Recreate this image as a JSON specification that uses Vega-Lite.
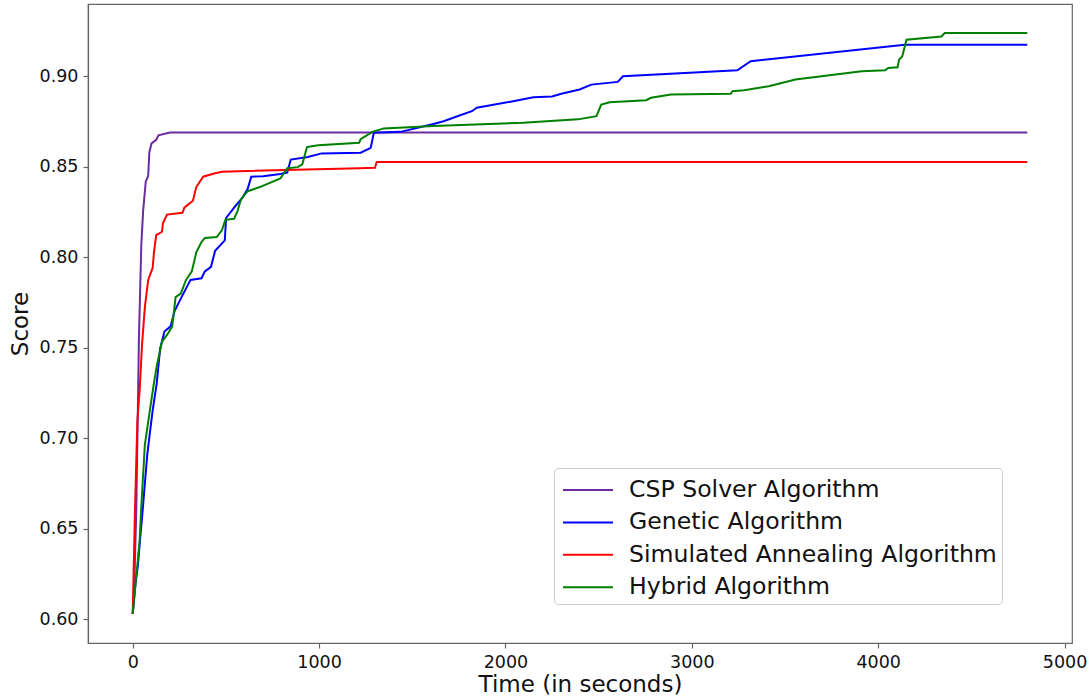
{
  "$schema": "https://vega.github.io/schema/vega-lite/v6.json",
  "width": 984,
  "height": 639,
  "autosize": {"type": "none"},
  "padding": {"left": 88, "top": 4, "right": 17, "bottom": 53},
  "background": "white",
  "config": {
    "font": "DejaVu Sans",
    "view": {"stroke": "#666666", "strokeWidth": 1.2},
    "axis": {
      "grid": false,
      "domainColor": "#666666",
      "domainWidth": 1.2,
      "tickColor": "#666666",
      "tickSize": 5,
      "tickWidth": 1.2,
      "labelFont": "DejaVu Sans",
      "labelFontSize": 17.5,
      "labelColor": "#111111",
      "titleFont": "DejaVu Sans",
      "titleFontSize": 23,
      "titleFontWeight": "normal",
      "titleColor": "#111111",
      "labelPadding": 5
    }
  },
  "data": {
    "values": [
      {"algorithm": "CSP Solver Algorithm", "time": 0, "score": 0.603},
      {"algorithm": "CSP Solver Algorithm", "time": 10, "score": 0.625},
      {"algorithm": "CSP Solver Algorithm", "time": 19, "score": 0.66},
      {"algorithm": "CSP Solver Algorithm", "time": 26, "score": 0.705},
      {"algorithm": "CSP Solver Algorithm", "time": 33, "score": 0.754},
      {"algorithm": "CSP Solver Algorithm", "time": 46, "score": 0.807},
      {"algorithm": "CSP Solver Algorithm", "time": 56, "score": 0.826},
      {"algorithm": "CSP Solver Algorithm", "time": 70, "score": 0.842},
      {"algorithm": "CSP Solver Algorithm", "time": 83, "score": 0.845},
      {"algorithm": "CSP Solver Algorithm", "time": 89, "score": 0.858},
      {"algorithm": "CSP Solver Algorithm", "time": 101, "score": 0.863},
      {"algorithm": "CSP Solver Algorithm", "time": 126, "score": 0.865},
      {"algorithm": "CSP Solver Algorithm", "time": 138, "score": 0.8675},
      {"algorithm": "CSP Solver Algorithm", "time": 200, "score": 0.869},
      {"algorithm": "CSP Solver Algorithm", "time": 4800, "score": 0.869},

      {"algorithm": "Genetic Algorithm", "time": 0, "score": 0.603},
      {"algorithm": "Genetic Algorithm", "time": 15, "score": 0.62},
      {"algorithm": "Genetic Algorithm", "time": 28, "score": 0.63},
      {"algorithm": "Genetic Algorithm", "time": 40, "score": 0.645},
      {"algorithm": "Genetic Algorithm", "time": 52, "score": 0.6585},
      {"algorithm": "Genetic Algorithm", "time": 65, "score": 0.675},
      {"algorithm": "Genetic Algorithm", "time": 78, "score": 0.691},
      {"algorithm": "Genetic Algorithm", "time": 92, "score": 0.703},
      {"algorithm": "Genetic Algorithm", "time": 107, "score": 0.7155},
      {"algorithm": "Genetic Algorithm", "time": 129, "score": 0.7306},
      {"algorithm": "Genetic Algorithm", "time": 147, "score": 0.7496},
      {"algorithm": "Genetic Algorithm", "time": 170, "score": 0.7591},
      {"algorithm": "Genetic Algorithm", "time": 203, "score": 0.7619},
      {"algorithm": "Genetic Algorithm", "time": 225, "score": 0.7705},
      {"algorithm": "Genetic Algorithm", "time": 262, "score": 0.7781},
      {"algorithm": "Genetic Algorithm", "time": 310, "score": 0.7876},
      {"algorithm": "Genetic Algorithm", "time": 369, "score": 0.7885},
      {"algorithm": "Genetic Algorithm", "time": 387, "score": 0.7923},
      {"algorithm": "Genetic Algorithm", "time": 420, "score": 0.7948},
      {"algorithm": "Genetic Algorithm", "time": 442, "score": 0.8037},
      {"algorithm": "Genetic Algorithm", "time": 494, "score": 0.8094},
      {"algorithm": "Genetic Algorithm", "time": 501, "score": 0.8218},
      {"algorithm": "Genetic Algorithm", "time": 544, "score": 0.8275},
      {"algorithm": "Genetic Algorithm", "time": 590, "score": 0.8332},
      {"algorithm": "Genetic Algorithm", "time": 617, "score": 0.8379},
      {"algorithm": "Genetic Algorithm", "time": 636, "score": 0.8446},
      {"algorithm": "Genetic Algorithm", "time": 700, "score": 0.8449},
      {"algorithm": "Genetic Algorithm", "time": 792, "score": 0.8461},
      {"algorithm": "Genetic Algorithm", "time": 829, "score": 0.8469},
      {"algorithm": "Genetic Algorithm", "time": 848, "score": 0.8541},
      {"algorithm": "Genetic Algorithm", "time": 940, "score": 0.8555},
      {"algorithm": "Genetic Algorithm", "time": 1013, "score": 0.8575},
      {"algorithm": "Genetic Algorithm", "time": 1223, "score": 0.8579},
      {"algorithm": "Genetic Algorithm", "time": 1277, "score": 0.8606},
      {"algorithm": "Genetic Algorithm", "time": 1294, "score": 0.8689},
      {"algorithm": "Genetic Algorithm", "time": 1437, "score": 0.8694},
      {"algorithm": "Genetic Algorithm", "time": 1614, "score": 0.8737},
      {"algorithm": "Genetic Algorithm", "time": 1668, "score": 0.8753},
      {"algorithm": "Genetic Algorithm", "time": 1757, "score": 0.8786},
      {"algorithm": "Genetic Algorithm", "time": 1820, "score": 0.8808},
      {"algorithm": "Genetic Algorithm", "time": 1846, "score": 0.8827},
      {"algorithm": "Genetic Algorithm", "time": 2041, "score": 0.8863},
      {"algorithm": "Genetic Algorithm", "time": 2150, "score": 0.8885},
      {"algorithm": "Genetic Algorithm", "time": 2250, "score": 0.889},
      {"algorithm": "Genetic Algorithm", "time": 2300, "score": 0.8905},
      {"algorithm": "Genetic Algorithm", "time": 2398, "score": 0.8928},
      {"algorithm": "Genetic Algorithm", "time": 2461, "score": 0.8955},
      {"algorithm": "Genetic Algorithm", "time": 2603, "score": 0.897},
      {"algorithm": "Genetic Algorithm", "time": 2630, "score": 0.9001},
      {"algorithm": "Genetic Algorithm", "time": 3244, "score": 0.9034},
      {"algorithm": "Genetic Algorithm", "time": 3316, "score": 0.9084},
      {"algorithm": "Genetic Algorithm", "time": 4143, "score": 0.9175},
      {"algorithm": "Genetic Algorithm", "time": 4800, "score": 0.9175},

      {"algorithm": "Simulated Annealing Algorithm", "time": 0, "score": 0.603},
      {"algorithm": "Simulated Annealing Algorithm", "time": 12, "score": 0.66},
      {"algorithm": "Simulated Annealing Algorithm", "time": 25, "score": 0.71},
      {"algorithm": "Simulated Annealing Algorithm", "time": 38, "score": 0.728},
      {"algorithm": "Simulated Annealing Algorithm", "time": 50, "score": 0.752},
      {"algorithm": "Simulated Annealing Algorithm", "time": 65, "score": 0.7724},
      {"algorithm": "Simulated Annealing Algorithm", "time": 83, "score": 0.7876},
      {"algorithm": "Simulated Annealing Algorithm", "time": 107, "score": 0.7943},
      {"algorithm": "Simulated Annealing Algorithm", "time": 114, "score": 0.8028},
      {"algorithm": "Simulated Annealing Algorithm", "time": 126, "score": 0.8123},
      {"algorithm": "Simulated Annealing Algorithm", "time": 157, "score": 0.8142},
      {"algorithm": "Simulated Annealing Algorithm", "time": 162, "score": 0.8189},
      {"algorithm": "Simulated Annealing Algorithm", "time": 184, "score": 0.8237},
      {"algorithm": "Simulated Annealing Algorithm", "time": 267, "score": 0.8247},
      {"algorithm": "Simulated Annealing Algorithm", "time": 277, "score": 0.8275},
      {"algorithm": "Simulated Annealing Algorithm", "time": 323, "score": 0.8313},
      {"algorithm": "Simulated Annealing Algorithm", "time": 341, "score": 0.8389},
      {"algorithm": "Simulated Annealing Algorithm", "time": 378, "score": 0.8446},
      {"algorithm": "Simulated Annealing Algorithm", "time": 442, "score": 0.8465},
      {"algorithm": "Simulated Annealing Algorithm", "time": 479, "score": 0.8474},
      {"algorithm": "Simulated Annealing Algorithm", "time": 1216, "score": 0.8493},
      {"algorithm": "Simulated Annealing Algorithm", "time": 1300, "score": 0.8496},
      {"algorithm": "Simulated Annealing Algorithm", "time": 1309, "score": 0.8527},
      {"algorithm": "Simulated Annealing Algorithm", "time": 4800, "score": 0.8527},

      {"algorithm": "Hybrid Algorithm", "time": 0, "score": 0.603},
      {"algorithm": "Hybrid Algorithm", "time": 20, "score": 0.625},
      {"algorithm": "Hybrid Algorithm", "time": 37, "score": 0.6433},
      {"algorithm": "Hybrid Algorithm", "time": 46, "score": 0.6623},
      {"algorithm": "Hybrid Algorithm", "time": 65, "score": 0.6965},
      {"algorithm": "Hybrid Algorithm", "time": 92, "score": 0.7155},
      {"algorithm": "Hybrid Algorithm", "time": 111, "score": 0.7288},
      {"algorithm": "Hybrid Algorithm", "time": 129, "score": 0.7401},
      {"algorithm": "Hybrid Algorithm", "time": 157, "score": 0.7534},
      {"algorithm": "Hybrid Algorithm", "time": 184, "score": 0.7572},
      {"algorithm": "Hybrid Algorithm", "time": 212, "score": 0.7619},
      {"algorithm": "Hybrid Algorithm", "time": 230, "score": 0.7781},
      {"algorithm": "Hybrid Algorithm", "time": 258, "score": 0.78},
      {"algorithm": "Hybrid Algorithm", "time": 286, "score": 0.7876},
      {"algorithm": "Hybrid Algorithm", "time": 317, "score": 0.7923},
      {"algorithm": "Hybrid Algorithm", "time": 341, "score": 0.8028},
      {"algorithm": "Hybrid Algorithm", "time": 369, "score": 0.8085},
      {"algorithm": "Hybrid Algorithm", "time": 387, "score": 0.8108},
      {"algorithm": "Hybrid Algorithm", "time": 451, "score": 0.8113},
      {"algorithm": "Hybrid Algorithm", "time": 479, "score": 0.8151},
      {"algorithm": "Hybrid Algorithm", "time": 497, "score": 0.8208},
      {"algorithm": "Hybrid Algorithm", "time": 544, "score": 0.8214},
      {"algorithm": "Hybrid Algorithm", "time": 562, "score": 0.8256},
      {"algorithm": "Hybrid Algorithm", "time": 581, "score": 0.8322},
      {"algorithm": "Hybrid Algorithm", "time": 617, "score": 0.8366},
      {"algorithm": "Hybrid Algorithm", "time": 682, "score": 0.8389},
      {"algorithm": "Hybrid Algorithm", "time": 792, "score": 0.8436},
      {"algorithm": "Hybrid Algorithm", "time": 829, "score": 0.8493},
      {"algorithm": "Hybrid Algorithm", "time": 885, "score": 0.8499},
      {"algorithm": "Hybrid Algorithm", "time": 910, "score": 0.8515},
      {"algorithm": "Hybrid Algorithm", "time": 935, "score": 0.861},
      {"algorithm": "Hybrid Algorithm", "time": 995, "score": 0.862},
      {"algorithm": "Hybrid Algorithm", "time": 1215, "score": 0.8634},
      {"algorithm": "Hybrid Algorithm", "time": 1223, "score": 0.8654},
      {"algorithm": "Hybrid Algorithm", "time": 1267, "score": 0.8681},
      {"algorithm": "Hybrid Algorithm", "time": 1286, "score": 0.8694},
      {"algorithm": "Hybrid Algorithm", "time": 1347, "score": 0.8713},
      {"algorithm": "Hybrid Algorithm", "time": 1614, "score": 0.8726},
      {"algorithm": "Hybrid Algorithm", "time": 2095, "score": 0.8744},
      {"algorithm": "Hybrid Algorithm", "time": 2389, "score": 0.8763},
      {"algorithm": "Hybrid Algorithm", "time": 2488, "score": 0.8781},
      {"algorithm": "Hybrid Algorithm", "time": 2514, "score": 0.8845},
      {"algorithm": "Hybrid Algorithm", "time": 2559, "score": 0.8858},
      {"algorithm": "Hybrid Algorithm", "time": 2755, "score": 0.8869},
      {"algorithm": "Hybrid Algorithm", "time": 2781, "score": 0.8882},
      {"algorithm": "Hybrid Algorithm", "time": 2888, "score": 0.89},
      {"algorithm": "Hybrid Algorithm", "time": 3209, "score": 0.8904},
      {"algorithm": "Hybrid Algorithm", "time": 3218, "score": 0.8918},
      {"algorithm": "Hybrid Algorithm", "time": 3280, "score": 0.8924},
      {"algorithm": "Hybrid Algorithm", "time": 3413, "score": 0.8946},
      {"algorithm": "Hybrid Algorithm", "time": 3556, "score": 0.8983},
      {"algorithm": "Hybrid Algorithm", "time": 3912, "score": 0.9029},
      {"algorithm": "Hybrid Algorithm", "time": 4037, "score": 0.9034},
      {"algorithm": "Hybrid Algorithm", "time": 4054, "score": 0.9047},
      {"algorithm": "Hybrid Algorithm", "time": 4104, "score": 0.9051},
      {"algorithm": "Hybrid Algorithm", "time": 4112, "score": 0.9093},
      {"algorithm": "Hybrid Algorithm", "time": 4129, "score": 0.9111},
      {"algorithm": "Hybrid Algorithm", "time": 4152, "score": 0.9203},
      {"algorithm": "Hybrid Algorithm", "time": 4339, "score": 0.9221},
      {"algorithm": "Hybrid Algorithm", "time": 4357, "score": 0.924},
      {"algorithm": "Hybrid Algorithm", "time": 4800, "score": 0.924}
    ]
  },
  "mark": {"type": "line", "strokeWidth": 2, "clip": true},
  "encoding": {
    "x": {
      "field": "time",
      "type": "quantitative",
      "scale": {"domain": [-240, 5040], "nice": false, "zero": false},
      "axis": {"values": [0, 1000, 2000, 3000, 4000, 5000], "format": "d", "title": "Time (in seconds)", "titlePadding": 3}
    },
    "y": {
      "field": "score",
      "type": "quantitative",
      "scale": {"domain": [0.58695, 0.94005], "nice": false, "zero": false},
      "axis": {"values": [0.6, 0.65, 0.7, 0.75, 0.8, 0.85, 0.9], "format": ".2f", "title": "Score", "titlePadding": 7}
    },
    "color": {
      "field": "algorithm",
      "type": "nominal",
      "scale": {
        "domain": ["CSP Solver Algorithm", "Genetic Algorithm", "Simulated Annealing Algorithm", "Hybrid Algorithm"],
        "range": ["#6a2c9e", "#0000ff", "#ff0000", "#008000"]
      },
      "legend": {
        "title": null,
        "orient": "none",
        "legendX": 466,
        "legendY": 464,
        "symbolType": "M-1.5625,0H1.5625",
        "symbolSize": 1024,
        "symbolStrokeWidth": 2,
        "symbolOffset": 12,
        "labelFont": "DejaVu Sans",
        "labelFontSize": 23.6,
        "labelColor": "#111111",
        "labelOffset": 24,
        "rowPadding": 3.4,
        "padding": 5,
        "strokeColor": "#cccccc",
        "fillColor": "white",
        "cornerRadius": 4,
        "labelLimit": 600
      }
    }
  }
}
